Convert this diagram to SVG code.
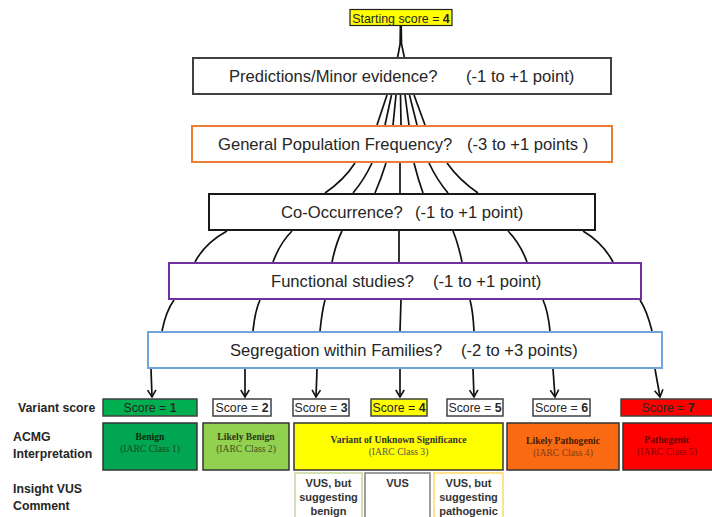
<svg xmlns="http://www.w3.org/2000/svg" width="712" height="517" viewBox="0 0 712 517">
<defs>
<style>
.q{font-family:"Liberation Sans",Arial,sans-serif;font-size:16.6px;fill:#262626}
.sc{font-family:"Liberation Sans",Arial,sans-serif;font-size:12.3px;fill:#262626;text-anchor:middle}
.lab{font-family:"Liberation Sans",Arial,sans-serif;font-size:12.3px;font-weight:bold;fill:#262626}
.ac{font-family:"Liberation Serif","Times New Roman",serif;font-size:9.6px;text-anchor:middle}
.acb{font-weight:bold}
.ins{font-family:"Liberation Sans",Arial,sans-serif;font-size:11px;font-weight:bold;fill:#333;text-anchor:middle}
.con path{fill:none;stroke:#111;stroke-width:1.7}
.box{fill:#fff;stroke-width:2}
.sbox{stroke:#404040;stroke-width:1.5}
.abox{stroke:#333;stroke-width:1.5}
</style>
<marker id="ah" markerUnits="userSpaceOnUse" markerWidth="12" markerHeight="12" viewBox="-8 -6 10 12" refX="0" refY="0" orient="auto">
<path d="M-7,-4.2 L0,0 L-7,4.2" fill="none" stroke="#111" stroke-width="1.6"/>
</marker>
</defs>

<g class="con">
<path d="M400.4,26 L401.2,26 L401.5,44 L404.5,58 L397.5,58 L400.1,44 Z" fill="#111" stroke="none"/>
<path d="M387,95 L377,125"/>
<path d="M391.5,95 L385,125"/>
<path d="M396,95 L393,125"/>
<path d="M400.5,95 L401,125"/>
<path d="M405,95 L409,125"/>
<path d="M409.5,95 L417,125"/>
<path d="M414,95 L425,125"/>

<path d="M355,163 Q344,180 325,193"/>
<path d="M372,163 Q364,180 353,193"/>
<path d="M386,163 Q381,179 375,193"/>
<path d="M400,163 L400,193"/>
<path d="M414,163 Q418,179 423,193"/>
<path d="M429,163 Q437,180 448,193"/>
<path d="M447,163 Q459,180 478,193"/>

<path d="M227,231 Q205,243 195,262"/>
<path d="M292,231 Q280,243 273,262"/>
<path d="M342,231 Q336,243 332,262"/>
<path d="M399,231 L399,262"/>
<path d="M453,231 Q458,243 462,262"/>
<path d="M508,231 Q520,243 527,262"/>
<path d="M583,231 Q603,243 613,262"/>

<path d="M174,300 Q166,311 162,331"/>
<path d="M260,300 Q255,311 253,331"/>
<path d="M325,300 Q322,311 320,331"/>
<path d="M401,300 L400,331"/>
<path d="M470,300 Q473,311 474,331"/>
<path d="M543,300 Q548,311 550,331"/>
<path d="M640,300 Q647,311 652,331"/>

<path d="M151,369 L152,397" marker-end="url(#ah)"/>
<path d="M245,369 L245,397" marker-end="url(#ah)"/>
<path d="M317,369 L316,397" marker-end="url(#ah)"/>
<path d="M400,369 L400,397" marker-end="url(#ah)"/>
<path d="M473,369 L474,397" marker-end="url(#ah)"/>
<path d="M553,369 L555,397" marker-end="url(#ah)"/>
<path d="M655,369 L660,397" marker-end="url(#ah)"/>
</g>

<g id="start">
<rect x="350" y="9.5" width="102" height="16" fill="#ffff00" stroke="#222" stroke-width="1.2"/>
<text x="401" y="22.5" class="sc" style="font-size:12.4px">Starting score = <tspan font-weight="bold">4</tspan></text>
</g>

<g id="predictions">
<rect class="box" x="193" y="58" width="418" height="36" stroke="#404040" stroke-width="1.5"/>
<text class="q" y="82"><tspan x="229">Predictions/Minor evidence?</tspan><tspan x="466">(-1 to +1 point)</tspan></text>
</g>

<g id="population">
<rect class="box" x="192" y="126" width="420" height="36" stroke="#ed7d31"/>
<text class="q" y="150"><tspan x="218">General Population Frequency?</tspan><tspan x="467">(-3 to +1 points )</tspan></text>
</g>

<g id="cooccurrence">
<rect class="box" x="209" y="194" width="386" height="36" stroke="#1a1a1a"/>
<text class="q" y="218"><tspan x="281">Co-Occurrence?</tspan><tspan x="415">(-1 to +1 point)</tspan></text>
</g>

<g id="functional">
<rect class="box" x="169" y="263" width="472" height="36" stroke="#7030a0"/>
<text class="q" y="287"><tspan x="271">Functional studies?</tspan><tspan x="433">(-1 to +1 point)</tspan></text>
</g>

<g id="segregation">
<rect class="box" x="148" y="332" width="514" height="36" stroke="#6fa3dc"/>
<text class="q" y="356"><tspan x="230">Segregation within Families?</tspan><tspan x="461">(-2 to +3 points)</tspan></text>
</g>

<g id="row-labels">
<text class="lab" x="18" y="412">Variant score</text>
<text class="lab" x="13" y="441">ACMG</text>
<text class="lab" x="13" y="458">Interpretation</text>
<text class="lab" x="13" y="493">Insight VUS</text>
<text class="lab" x="13" y="510">Comment</text>
</g>

<g id="score1"><rect class="sbox" x="103" y="399" width="94" height="17" fill="#00b050"/><text class="sc" x="150" y="412">Score = <tspan font-weight="bold">1</tspan></text></g>
<g id="score2"><rect class="sbox" x="213" y="399" width="58" height="17" fill="#fff"/><text class="sc" x="242" y="412">Score = <tspan font-weight="bold">2</tspan></text></g>
<g id="score3"><rect class="sbox" x="293" y="399" width="56" height="17" fill="#fff"/><text class="sc" x="321" y="412">Score = <tspan font-weight="bold">3</tspan></text></g>
<g id="score4"><rect class="sbox" x="371" y="399" width="56" height="17" fill="#ffff00"/><text class="sc" x="399" y="412">Score = <tspan font-weight="bold">4</tspan></text></g>
<g id="score5"><rect class="sbox" x="447" y="399" width="56" height="17" fill="#fff"/><text class="sc" x="475" y="412">Score = <tspan font-weight="bold">5</tspan></text></g>
<g id="score6"><rect class="sbox" x="533" y="399" width="57" height="17" fill="#fff"/><text class="sc" x="561.5" y="412">Score = <tspan font-weight="bold">6</tspan></text></g>
<g id="score7"><rect class="sbox" x="621" y="399" width="93" height="17" fill="#ff0000"/><text class="sc" x="668" y="412">Score = <tspan font-weight="bold">7</tspan></text></g>

<g id="benign"><rect class="abox" x="103" y="423" width="94" height="47" fill="#00a651"/>
<text class="ac" x="150" y="440"><tspan class="acb" fill="#0f2a10">Benign</tspan><tspan x="150" dy="12" fill="#174d1c">(IARC Class 1)</tspan></text></g>
<g id="likely-benign"><rect class="abox" x="203" y="423" width="86" height="47" fill="#92d050"/>
<text class="ac" x="246" y="440"><tspan class="acb" fill="#2a3a15">Likely Benign</tspan><tspan x="246" dy="12" fill="#3b5220">(IARC Class 2)</tspan></text></g>
<g id="vus"><rect class="abox" x="294" y="423" width="209" height="47" fill="#ffff00"/>
<text class="ac" x="398.5" y="443"><tspan class="acb" fill="#333">Variant of Unknown Significance</tspan><tspan x="398.5" dy="12" fill="#555">(IARC Class 3)</tspan></text></g>
<g id="likely-pathogenic"><rect class="abox" x="507" y="423" width="112" height="47" fill="#f96a12"/>
<text class="ac" x="563" y="444"><tspan class="acb" fill="#4a1a00">Likely Pathogenic</tspan><tspan x="563" dy="12" fill="#8a3a12">(IARC Class 4)</tspan></text></g>
<g id="pathogenic"><rect class="abox" x="623" y="423" width="91" height="47" fill="#ff0000"/>
<text class="ac" x="667" y="443"><tspan class="acb" fill="#6b0000">Pathogenic</tspan><tspan x="667" dy="12" fill="#8f0000">(IARC Class 5)</tspan></text></g>

<g id="vus-benign"><rect x="295" y="473" width="67" height="50" fill="#fff" stroke="#c3d69b" stroke-width="1.5"/>
<text class="ins" x="328.5" y="487">VUS, but<tspan x="328.5" dy="14">suggesting</tspan><tspan x="328.5" dy="14">benign</tspan></text></g>
<g id="vus-plain"><rect x="365" y="473" width="65" height="50" fill="#fff" stroke="#7f7f7f" stroke-width="1.5"/>
<text class="ins" x="397.5" y="487">VUS</text></g>
<g id="vus-pathogenic"><rect x="434" y="473" width="69" height="50" fill="#fff" stroke="#ffd966" stroke-width="1.5"/>
<text class="ins" x="468.5" y="487">VUS, but<tspan x="468.5" dy="14">suggesting</tspan><tspan x="468.5" dy="14">pathogenic</tspan></text></g>
</svg>
